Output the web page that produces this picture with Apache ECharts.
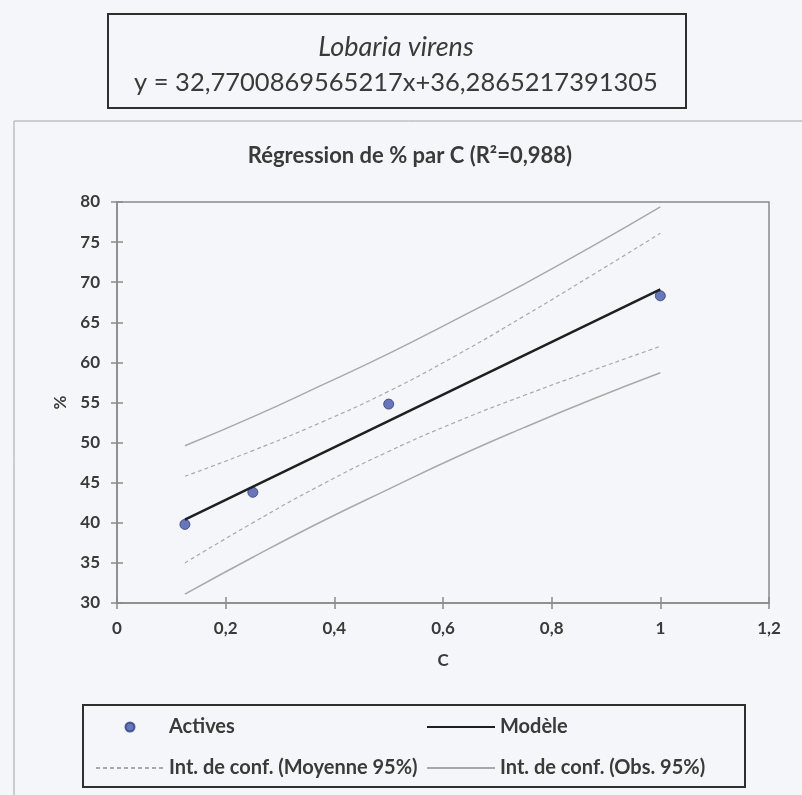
<!DOCTYPE html>
<html>
<head>
<meta charset="utf-8">
<script src="https://cdn.jsdelivr.net/npm/echarts@6/dist/echarts.min.js"></script>
<style>
  html, body { margin: 0; padding: 0; background: #f4f6f9; }
  #chart { width: 802px; height: 795px; }
</style>
</head>
<body>
<div id="chart"></div>
<script>
// observations (Actives)
const cValues = [0.125, 0.25, 0.5, 1];
const pctValues = [39.8, 43.8, 54.8, 68.3];

// regression line end points
const modelX = [0.125, 1];
const modelY = [40.4, 69.1];

// confidence bands
const bandX = [0.125, 0.25, 0.375, 0.5, 0.625, 0.75, 0.875, 1];
const meanUpper = [45.8, 49.0, 52.5, 56.4, 60.9, 65.8, 70.9, 76.1];
const meanLower = [35.0, 40.0, 44.7, 48.9, 52.6, 55.9, 59.0, 62.0];
const obsUpper = [49.6, 53.2, 57.1, 61.1, 65.4, 69.8, 74.5, 79.4];
const obsLower = [31.1, 35.7, 40.1, 44.2, 48.2, 51.9, 55.4, 58.7];

const xTicks = { min: 0, max: 1.2, interval: 0.2 };
const yTicks = { min: 30, max: 80, interval: 5 };

const FONT = 'Lato';
const TEXT = '#3a3a3a';
const AXIS = '#8a8a8a';
const BAND = '#a9a9a9';

const pairs = (xs, ys) => xs.map((x, i) => [x, ys[i]]);
const comma = v => String(+v.toFixed(2)).replace('.', ',');

const chart = echarts.init(document.getElementById('chart'));

const bandSeries = (name, ys, dashed) => ({
  name,
  type: 'line',
  data: pairs(bandX, ys),
  symbol: 'none',
  smooth: true,
  z: 2,
  itemStyle: { color: BAND },
  lineStyle: {
    color: BAND,
    width: dashed ? 1.2 : 1.5,
    type: dashed ? [4, 3] : 'solid'
  }
});

const legendText = { fontFamily: FONT, fontSize: 20, fontWeight: 'bold', color: TEXT, lineHeight: 20 };
const noSymbol = { opacity: 0 };

chart.setOption({
  animation: false,
  backgroundColor: '#f4f6f9',
  textStyle: { fontFamily: FONT },
  graphic: [
    {
      type: 'rect',
      shape: { x: 14, y: 121, width: 820, height: 700 },
      style: { fill: null, stroke: '#a4a4a4', lineWidth: 1 },
      z: -1
    },
    {
      type: 'rect',
      shape: { x: 108, y: 14, width: 578, height: 94 },
      style: { fill: null, stroke: '#2f2f2f', lineWidth: 2 }
    },
    {
      type: 'text',
      x: 396, y: 47,
      style: {
        text: 'Lobaria virens', align: 'center', verticalAlign: 'middle',
        font: 'italic 27px ' + FONT, fill: TEXT
      }
    },
    {
      type: 'text',
      x: 396, y: 83,
      style: {
        text: 'y = 32,7700869565217x+36,2865217391305', align: 'center', verticalAlign: 'middle',
        font: '25.5px ' + FONT, fill: TEXT
      }
    },
    {
      type: 'text',
      x: 410, y: 156,
      style: {
        text: 'Régression de % par C (R²=0,988)', align: 'center', verticalAlign: 'middle',
        font: 'bold 22px ' + FONT, fill: TEXT
      }
    },
    {
      type: 'rect',
      shape: { x: 83, y: 705, width: 662, height: 82 },
      style: { fill: null, stroke: '#2f2f2f', lineWidth: 2 }
    }
  ],
  legend: [
    {
      orient: 'vertical',
      left: 95,
      top: 717,
      padding: 0,
      itemWidth: 68,
      itemHeight: 9,
      itemGap: 21,
      data: ['Actives', { name: 'Int. de conf. (Moyenne 95%)', itemStyle: noSymbol }],
      textStyle: legendText
    },
    {
      orient: 'vertical',
      left: 426,
      top: 717,
      padding: 0,
      itemWidth: 68,
      itemHeight: 9,
      itemGap: 21,
      data: [
        { name: 'Modèle', itemStyle: noSymbol },
        { name: 'Int. de conf. (Obs. 95%)', itemStyle: noSymbol }
      ],
      textStyle: legendText
    }
  ],
  grid: {
    left: 117,
    right: 33,
    top: 202,
    bottom: 192,
    show: true,
    borderColor: AXIS,
    borderWidth: 1.5,
    backgroundColor: 'transparent'
  },
  xAxis: [
    {
      type: 'value',
      ...xTicks,
      name: 'C',
      nameLocation: 'middle',
      nameGap: 49,
      nameTextStyle: { fontFamily: FONT, fontSize: 17, fontWeight: 'bold', color: TEXT },
      axisLine: { show: true, onZero: false, lineStyle: { color: AXIS, width: 1.5 } },
      axisTick: { show: true, length: 6, lineStyle: { color: AXIS, width: 1.5 } },
      axisLabel: { margin: 17, fontFamily: FONT, fontSize: 17, fontWeight: 'bold', color: TEXT, formatter: comma },
      splitLine: { show: false }
    },
    {
      type: 'value',
      ...xTicks,
      position: 'bottom',
      axisLine: { show: false },
      axisTick: { show: true, inside: true, length: 6, lineStyle: { color: AXIS, width: 1.5 } },
      axisLabel: { show: false },
      splitLine: { show: false }
    }
  ],
  yAxis: [
    {
      type: 'value',
      ...yTicks,
      name: '%',
      nameLocation: 'middle',
      nameGap: 48,
      nameTextStyle: { fontFamily: FONT, fontSize: 17, fontWeight: 'bold', color: TEXT },
      axisLine: { show: true, onZero: false, lineStyle: { color: AXIS, width: 1.5 } },
      axisTick: { show: true, length: 6, lineStyle: { color: AXIS, width: 1.5 } },
      axisLabel: { margin: 17, fontFamily: FONT, fontSize: 17, fontWeight: 'bold', color: TEXT },
      splitLine: { show: false }
    },
    {
      type: 'value',
      ...yTicks,
      position: 'left',
      axisLine: { show: false },
      axisTick: { show: true, inside: true, length: 6, lineStyle: { color: AXIS, width: 1.5 } },
      axisLabel: { show: false },
      splitLine: { show: false }
    }
  ],
  series: [
    {
      name: 'Actives',
      type: 'scatter',
      data: pairs(cValues, pctValues),
      symbol: 'circle',
      symbolSize: 10,
      z: 3,
      itemStyle: { color: '#4358a9', borderColor: '#2c3c86', borderWidth: 1 }
    },
    {
      name: 'Modèle',
      type: 'line',
      data: pairs(modelX, modelY),
      symbol: 'none',
      z: 4,
      itemStyle: { color: '#1f1f1f' },
      lineStyle: { color: '#1f1f1f', width: 2.5 }
    },
    bandSeries('Int. de conf. (Moyenne 95%)', meanUpper, true),
    bandSeries('Int. de conf. (Moyenne 95%)', meanLower, true),
    bandSeries('Int. de conf. (Obs. 95%)', obsUpper, false),
    bandSeries('Int. de conf. (Obs. 95%)', obsLower, false)
  ]
});
</script>
</body>
</html>
